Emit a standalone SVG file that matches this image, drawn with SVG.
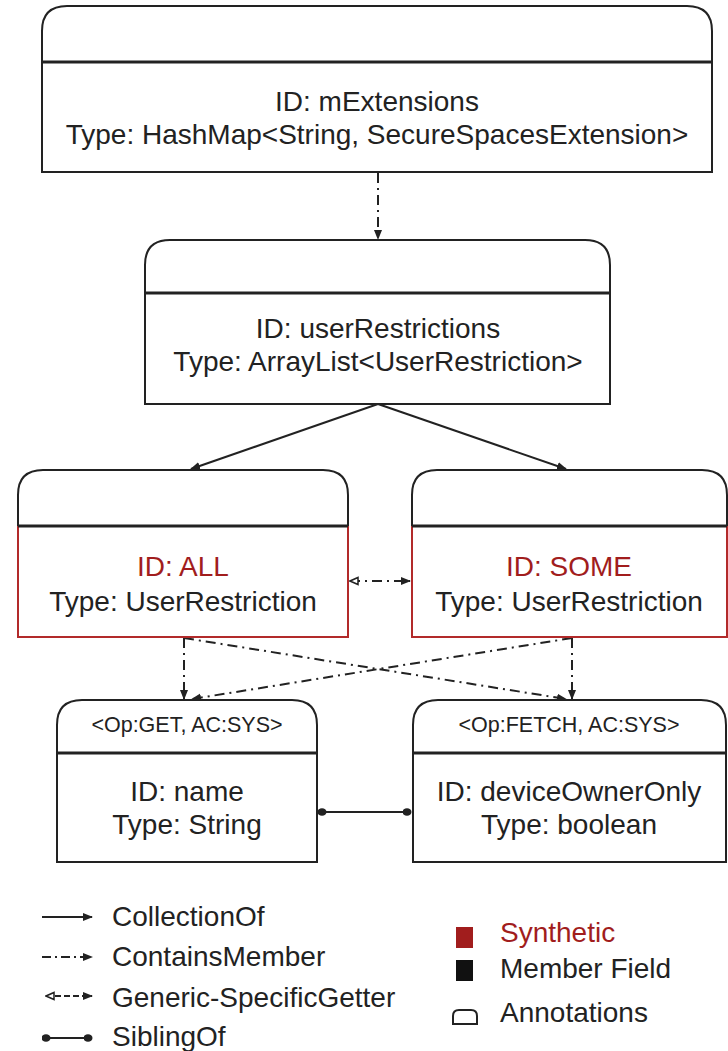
<svg xmlns="http://www.w3.org/2000/svg" width="728" height="1051" viewBox="0 0 728 1051">
<style>
text{font-family:"Liberation Sans",Arial,sans-serif;fill:#222;}
.t{font-size:28px;text-anchor:middle;}
.h{font-size:21.5px;text-anchor:middle;}
.red{fill:#a11d1d;}
.lg{font-size:28px;}
.box{fill:#fff;stroke:#222;stroke-width:2;}
.redb{fill:none;stroke:#b22a2a;stroke-width:2;}
.div{stroke:#222;stroke-width:3;}
.c{fill:none;stroke:#222;stroke-width:2;}
.dd{stroke-dasharray:10,5,2,5;}
</style>
<defs>
<marker id="af" viewBox="0 0 10 10" refX="9" refY="5" markerWidth="5" markerHeight="5" orient="auto"><path d="M0,1 L10,5 L0,9 Z" fill="#222"/></marker>
<marker id="ao" viewBox="0 0 10 10" refX="9" refY="5" markerWidth="5" markerHeight="5" orient="auto-start-reverse"><path d="M1,1.5 L9,5 L1,8.5 Z" fill="#fff" stroke="#222" stroke-width="1.5"/></marker>
<marker id="dt" viewBox="0 0 10 10" refX="5" refY="5" markerWidth="9" markerHeight="9" markerUnits="userSpaceOnUse"><ellipse cx="5" cy="5" rx="5" ry="4.2" fill="#222"/></marker>
</defs>

<g id="connectors">
<line class="c dd" x1="378" y1="173" x2="378" y2="239" marker-end="url(#af)"/>
<line class="c" x1="378" y1="404" x2="191" y2="469" marker-end="url(#af)"/>
<line class="c" x1="378" y1="404" x2="566" y2="469" marker-end="url(#af)"/>
<line class="c dd" x1="350" y1="581" x2="410" y2="581" marker-start="url(#ao)" marker-end="url(#af)"/>
<line class="c dd" x1="184" y1="638" x2="184" y2="699" marker-end="url(#af)"/>
<line class="c dd" x1="184" y1="638" x2="566" y2="699" marker-end="url(#af)"/>
<line class="c dd" x1="572" y1="638" x2="572" y2="699" marker-end="url(#af)"/>
<line class="c dd" x1="572" y1="638" x2="192" y2="699" marker-end="url(#af)"/>
<line class="c" x1="322" y1="812" x2="407" y2="812" marker-start="url(#dt)" marker-end="url(#dt)"/>
</g>

<g id="node-mExtensions">
<path class="box" d="M42,172 V31 Q42,6 67,6 H687 Q712,6 712,31 V172 Z"/>
<line class="div" x1="42" y1="62" x2="712" y2="62"/>
<text class="t" x="377" y="111">ID: mExtensions</text>
<text class="t" x="377" y="144">Type: HashMap&lt;String, SecureSpacesExtension&gt;</text>
</g>

<g id="node-userRestrictions">
<path class="box" d="M145,404 V265 Q145,240 170,240 H585 Q610,240 610,265 V404 Z"/>
<line class="div" x1="145" y1="293" x2="610" y2="293"/>
<text class="t" x="378" y="338">ID: userRestrictions</text>
<text class="t" x="378" y="371">Type: ArrayList&lt;UserRestriction&gt;</text>
</g>

<g id="node-ALL">
<path class="box" d="M18,526 V495 Q18,470 43,470 H323 Q348,470 348,495 V526"/>
<rect x="18" y="526" width="330" height="111" fill="#fff"/>
<path class="redb" d="M18,526 V637 H348 V526"/>
<line class="div" x1="18" y1="526" x2="348" y2="526"/>
<text class="t red" x="183" y="576">ID: ALL</text>
<text class="t" x="183" y="611">Type: UserRestriction</text>
</g>

<g id="node-SOME">
<path class="box" d="M412,526 V495 Q412,470 437,470 H702 Q727,470 727,495 V526"/>
<rect x="412" y="526" width="315" height="111" fill="#fff"/>
<path class="redb" d="M412,526 V637 H727 V526"/>
<line class="div" x1="412" y1="526" x2="727" y2="526"/>
<text class="t red" x="569" y="576">ID: SOME</text>
<text class="t" x="569" y="611">Type: UserRestriction</text>
</g>

<g id="node-name">
<path class="box" d="M57,862 V725 Q57,700 82,700 H292 Q317,700 317,725 V862 Z"/>
<line class="div" x1="57" y1="753" x2="317" y2="753"/>
<text class="h" x="187" y="732">&lt;Op:GET, AC:SYS&gt;</text>
<text class="t" x="187" y="801">ID: name</text>
<text class="t" x="187" y="834">Type: String</text>
</g>

<g id="node-deviceOwnerOnly">
<path class="box" d="M413,862 V725 Q413,700 438,700 H701 Q726,700 726,725 V862 Z"/>
<line class="div" x1="413" y1="753" x2="726" y2="753"/>
<text class="h" x="569" y="732">&lt;Op:FETCH, AC:SYS&gt;</text>
<text class="t" x="569" y="801">ID: deviceOwnerOnly</text>
<text class="t" x="569" y="834">Type: boolean</text>
</g>

<g id="legend">
<line class="c" x1="42" y1="917" x2="92" y2="917" marker-end="url(#af)"/>
<text class="lg" x="112" y="926">CollectionOf</text>
<line class="c" x1="42" y1="957" x2="92" y2="957" stroke-dasharray="9,4,2,4" marker-end="url(#af)"/>
<text class="lg" x="112" y="966">ContainsMember</text>
<line class="c" x1="46" y1="996" x2="92" y2="996" stroke-dasharray="6,3" marker-start="url(#ao)" marker-end="url(#af)"/>
<text class="lg" x="112" y="1007">Generic-SpecificGetter</text>
<line class="c" x1="46" y1="1038" x2="88" y2="1038" marker-start="url(#dt)" marker-end="url(#dt)"/>
<text class="lg" x="112" y="1046">SiblingOf</text>
<rect x="456" y="927" width="17" height="21" fill="#a11d1d"/>
<text class="lg red" x="500" y="942">Synthetic</text>
<rect x="456" y="960" width="17" height="21" fill="#111"/>
<text class="lg" x="500" y="978">Member Field</text>
<path d="M453,1024 V1016 Q453,1010 459,1010 H471 Q477,1010 477,1016 V1024 Z" fill="#fff" stroke="#222" stroke-width="2"/>
<text class="lg" x="500" y="1022">Annotations</text>
</g>
</svg>
